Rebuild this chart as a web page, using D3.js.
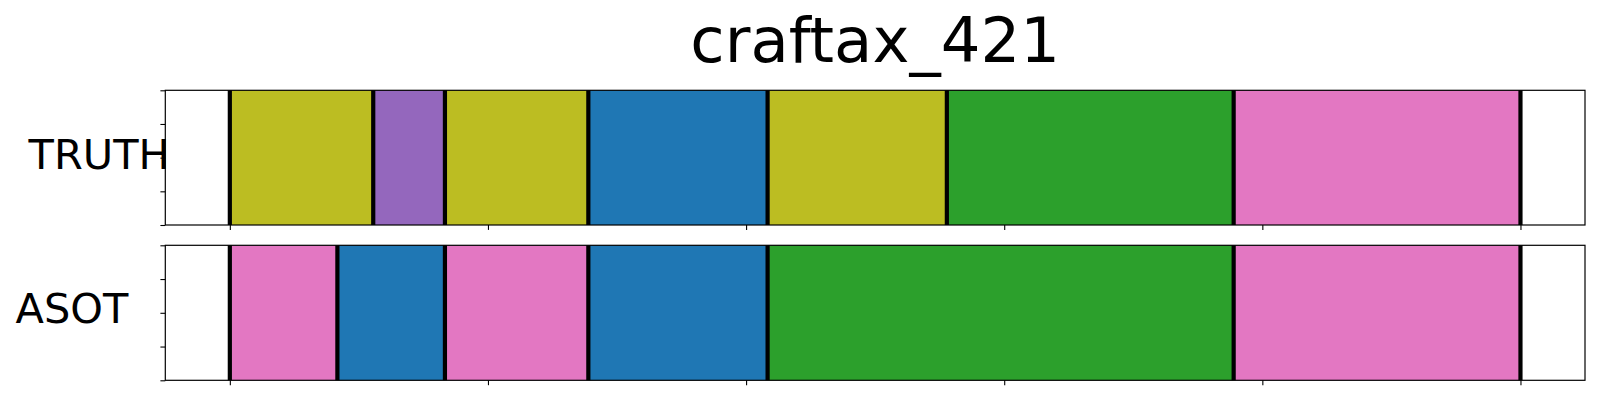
<!DOCTYPE html>
<html>
<head>
<meta charset="utf-8">
<script src="https://cdn.jsdelivr.net/npm/d3@7"></script>
<style>
  html, body { margin: 0; padding: 0; background: #fff; }
  svg { display: block; font-family: "DejaVu Sans", sans-serif; }
</style>
</head>
<body>
<svg id="chart" width="1600" height="400"></svg>
<script>
// ---- data ----
const chartTitle = "craftax_421";
const rowLabels = ["TRUTH", "ASOT"];
const nFrames = 36;
const truthStarts  = [0, 4, 6, 10, 15, 20, 28];
const truthEnds    = [4, 6, 10, 15, 20, 28, 36];
const truthClasses = [8, 4, 8, 0, 8, 2, 6];
const asotStarts   = [0, 3, 6, 10, 15, 28];
const asotEnds     = [3, 6, 10, 15, 28, 36];
const asotClasses  = [6, 0, 6, 0, 2, 6];
const xTicks = [0, 0.2, 0.4, 0.6, 0.8, 1.0];
const yTicks = [0, 0.25, 0.5, 0.75, 1.0];

const palette = d3.schemeCategory10;

const svg = d3.select("#chart");
const left = 165.3, right = 1585;
const panels = [
  { top: 90.3, bottom: 225, starts: truthStarts, ends: truthEnds, classes: truthClasses,
    label: rowLabels[0], lx: 28.6, ly: 169 },
  { top: 245.3, bottom: 380.3, starts: asotStarts, ends: asotEnds, classes: asotClasses,
    label: rowLabels[1], lx: 15.6, ly: 322.7 }
];

const x = d3.scaleLinear().domain([-0.05, 1.05]).range([left, right]);

panels.forEach(p => {
  const y = d3.scaleLinear().domain([0, 1]).range([p.bottom, p.top]);
  const g = svg.append("g");
  const segs = p.starts.map((s, i) => ({ s: s / nFrames, e: p.ends[i] / nFrames, c: p.classes[i] }));

  g.selectAll("rect.seg").data(segs).join("rect")
    .attr("class", "seg")
    .attr("x", d => x(d.s))
    .attr("width", d => x(d.e) - x(d.s))
    .attr("y", y(1))
    .attr("height", y(0) - y(1))
    .attr("fill", d => palette[d.c]);

  const bounds = [segs[0].s].concat(segs.map(d => d.e));
  g.selectAll("line.bound").data(bounds).join("line")
    .attr("class", "bound")
    .attr("x1", d => x(d)).attr("x2", d => x(d))
    .attr("y1", y(1)).attr("y2", y(0))
    .attr("stroke", "#000").attr("stroke-width", 4.2);

  // axes
  const xAxis = d3.axisBottom(x).tickValues(xTicks).tickFormat("").tickSize(4.9).tickSizeOuter(0);
  const yAxis = d3.axisLeft(y).tickValues(yTicks).tickFormat("").tickSize(4.9).tickSizeOuter(0);
  const gx = g.append("g").attr("transform", `translate(0,${p.bottom})`).call(xAxis);
  const gy = g.append("g").attr("transform", `translate(${left},0)`).call(yAxis);
  [gx, gy].forEach(a => {
    a.select(".domain").remove();
    a.selectAll(".tick line").attr("stroke", "#000").attr("stroke-width", 1.1);
  });

  g.append("rect")
    .attr("x", left).attr("y", p.top)
    .attr("width", right - left).attr("height", p.bottom - p.top)
    .attr("fill", "none").attr("stroke", "#000").attr("stroke-width", 1.2);

  svg.append("text")
    .attr("x", p.lx).attr("y", p.ly)
    .attr("font-size", 41.5)
    .attr("fill", "#000")
    .text(p.label);
});

svg.append("text")
  .attr("x", (left + right) / 2)
  .attr("y", 62.3)
  .attr("text-anchor", "middle")
  .attr("font-size", 62.5)
  .attr("fill", "#000")
  .text(chartTitle);
</script>
</body>
</html>
